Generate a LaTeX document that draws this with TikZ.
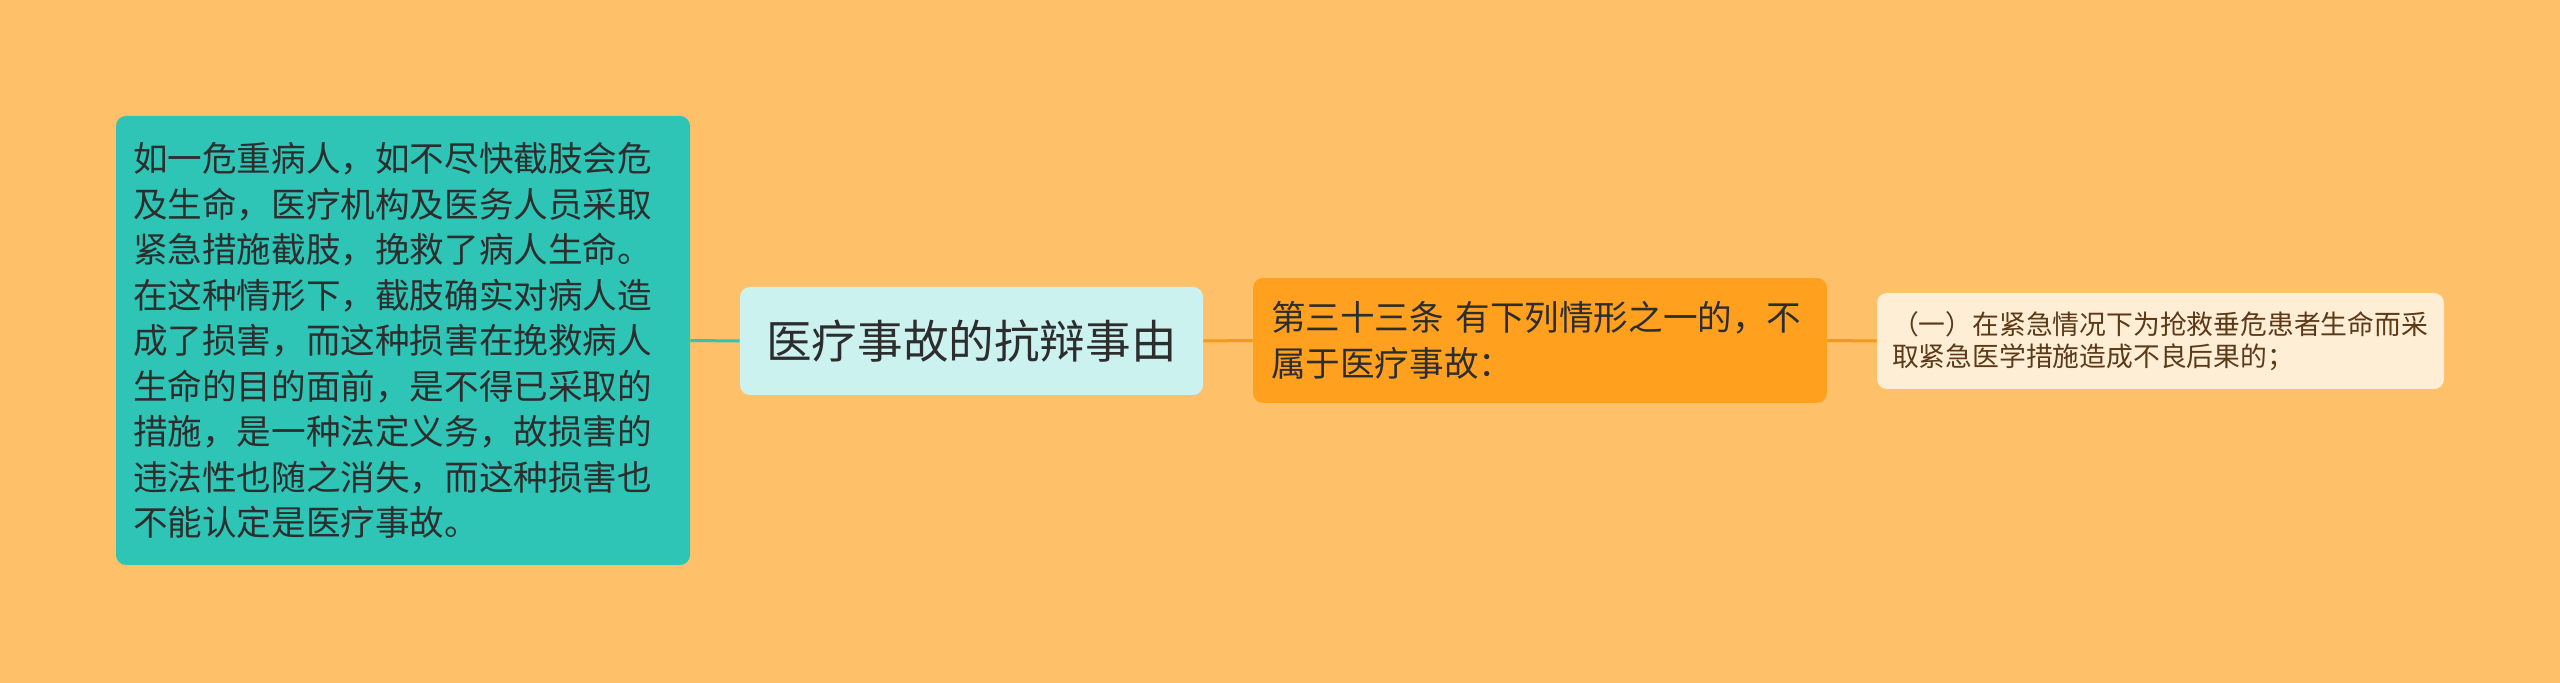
\documentclass[tikz,border=0pt]{standalone}
\usepackage{fontspec}
\newfontfamily\cjk{Noto Sans CJK SC}
\usetikzlibrary{positioning}
\definecolor{bgorange}{RGB}{255,192,106}
\definecolor{tealbox}{RGB}{46,196,182}
\definecolor{rootfill}{RGB}{204,242,240}
\definecolor{orangebox}{RGB}{255,161,31}
\definecolor{creambox}{RGB}{255,238,214}
\definecolor{textgray}{RGB}{45,45,45}
\definecolor{textbrown}{RGB}{92,58,24}
\tikzstyle{mapnode}=[rounded corners=5pt,inner ysep=0pt]
\tikzstyle{rootnode}=[mapnode,fill=rootfill,text=textgray,align=center,inner xsep=0pt,minimum width=231.5pt,minimum height=54pt,font=\cjk\fontsize{22.8pt}{27pt}\selectfont]
\tikzstyle{tealnode}=[mapnode,fill=tealbox,text=textgray,align=left,inner xsep=8.5pt,text width=270pt,minimum height=224.5pt,font=\cjk\fontsize{17.3pt}{22.75pt}\selectfont]
\tikzstyle{branchnode}=[mapnode,fill=orangebox,text=textgray,align=left,inner xsep=9pt,text width=269pt,minimum height=62.5pt,font=\cjk\fontsize{17.3pt}{23pt}\selectfont]
\tikzstyle{leafnode}=[mapnode,fill=creambox,text=textbrown,align=left,inner xsep=7.5pt,text width=268.5pt,minimum height=48pt,font=\cjk\fontsize{13.4pt}{16pt}\selectfont]
\tikzstyle{link} = [draw,line width=1.5pt]

\begin{document}
\begin{tikzpicture}[x=0.5pt,y=-0.5pt]
    % background of the map
    \fill[bgorange] (0,0) rectangle (2560,683);
    \useasboundingbox (0,0) rectangle (2560,683);

    % the topic in the middle
    \node[rootnode] (root) at (971.5,341) {医疗事故的抗辩事由};

    % left: the long explanation
    \node[tealnode] (expl) at (403,340.5) {
        如一危重病人，如不尽快截肢会危\\
        及生命，医疗机构及医务人员采取\\
        紧急措施截肢，挽救了病人生命。\\
        在这种情形下，截肢确实对病人造\\
        成了损害，而这种损害在挽救病人\\
        生命的目的面前，是不得已采取的\\
        措施，是一种法定义务，故损害的\\
        违法性也随之消失，而这种损害也\\
        不能认定是医疗事故。};

    % right: the article and its first case
    \node[branchnode] (art) at (1540,340.5) {
        第三十三条 有下列情形之一的，不\\
        属于医疗事故：};
    \node[leafnode] (case) at (2160.5,341) {
        （一）在紧急情况下为抢救垂危患者生命而采\\
        取紧急医学措施造成不良后果的；};

    % connect the nodes
    \path[link,tealbox] (expl.east) -- (root.west);
    \foreach \source/\dest in {root/art, art/case}
        \path[link,orangebox!95!black] (\source.east) -- (\dest.west);
\end{tikzpicture}
\end{document}
